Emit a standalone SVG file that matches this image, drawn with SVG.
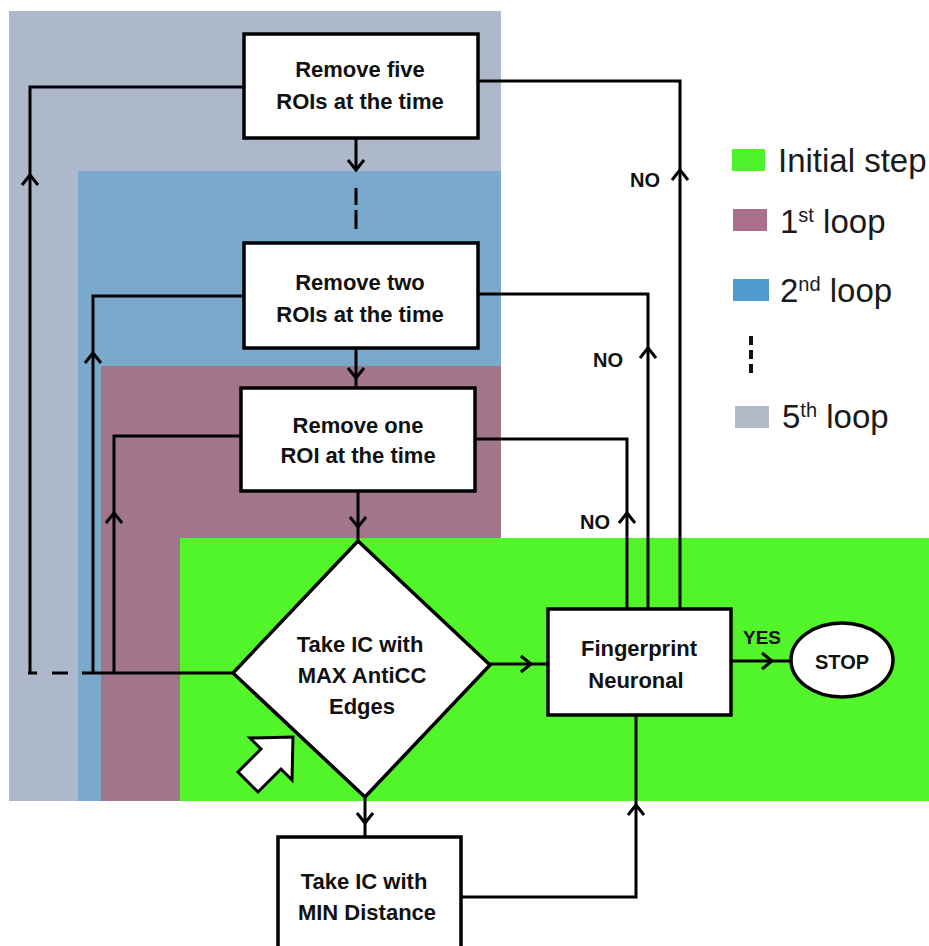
<svg xmlns="http://www.w3.org/2000/svg" width="929" height="946" viewBox="0 0 929 946">
<style>
.box{fill:#fff;stroke:#000;stroke-width:3.5}
.ln{fill:none;stroke:#000;stroke-width:3}
.lbl{font-family:"Liberation Sans",Arial,sans-serif;font-weight:bold;font-size:22px;fill:#111;text-anchor:middle}
.no{font-family:"Liberation Sans",Arial,sans-serif;font-weight:bold;font-size:20px;fill:#111}
.leg{font-family:"Liberation Sans",Arial,sans-serif;font-size:33px;fill:#1a1a1a}
</style>
<defs>
<marker id="ch" markerUnits="userSpaceOnUse" markerWidth="24" markerHeight="24" refX="12" refY="10" orient="auto" overflow="visible">
<path d="M2,2 L12,10 L2,18" fill="none" stroke="#000" stroke-width="3"/>
</marker>
</defs>
<rect width="929" height="946" fill="#fff"/>
<g id="regions">
<rect x="9" y="11" width="492" height="790" fill="#AEB8CB"/>
<rect x="78" y="171" width="423" height="630" fill="#79AACC"/>
<rect x="101" y="366" width="400" height="435" fill="#A1768A"/>
<rect x="180" y="538" width="749" height="263" fill="#52F52A"/>
</g>
<g id="connectors">
<!-- five box left loop -->
<path class="ln" d="M30,673 L30,175" marker-end="url(#ch)"/>
<path class="ln" d="M30,175 L30,87 L244,87"/>
<path class="ln" d="M28,673 L37,673"/>
<path class="ln" d="M52,673 L68,673"/>
<!-- two box left loop -->
<path class="ln" d="M93,673 L93,353" marker-end="url(#ch)"/>
<path class="ln" d="M93,353 L93,296 L244,296"/>
<!-- one box left loop -->
<path class="ln" d="M114,673 L114,513" marker-end="url(#ch)"/>
<path class="ln" d="M114,513 L114,436 L241,436"/>
<!-- main horizontal into diamond -->
<path class="ln" d="M82,673 L233,673"/>
<!-- right NO loops -->
<path class="ln" d="M680,609 L680,170" marker-end="url(#ch)"/>
<path class="ln" d="M680,170 L680,81 L478,81"/>
<path class="ln" d="M648,609 L648,348" marker-end="url(#ch)"/>
<path class="ln" d="M648,348 L648,294 L478,294"/>
<path class="ln" d="M627,609 L627,513" marker-end="url(#ch)"/>
<path class="ln" d="M627,513 L627,439 L475,439"/>
<!-- downward flow -->
<path class="ln" d="M356,138 L356,170" marker-end="url(#ch)"/>
<path class="ln" d="M356,188 L356,205"/>
<path class="ln" d="M356,210 L356,229"/>
<path class="ln" d="M356,348 L356,378" marker-end="url(#ch)"/>
<path class="ln" d="M356,378 L356,388"/>
<path class="ln" d="M358,491 L358,527" marker-end="url(#ch)"/>
<path class="ln" d="M358,527 L358,541"/>
<path class="ln" d="M365,797 L365,823" marker-end="url(#ch)"/>
<path class="ln" d="M365,823 L365,837"/>
<!-- min box to fingerprint -->
<path class="ln" d="M461,897 L636,897 L636,805" marker-end="url(#ch)"/>
<path class="ln" d="M636,805 L636,715"/>
<!-- diamond to fingerprint -->
<path class="ln" d="M490,664 L531,664" marker-end="url(#ch)"/>
<path class="ln" d="M531,664 L548,664"/>
<!-- fingerprint to stop -->
<path class="ln" d="M731,661 L772,661" marker-end="url(#ch)"/>
<path class="ln" d="M772,661 L791,661"/>
</g>
<g id="labels">
<text class="no" x="630" y="187">NO</text>
<text class="no" x="593" y="367">NO</text>
<text class="no" x="580" y="529">NO</text>
<text class="no" x="743" y="644" style="font-size:19px">YES</text>
</g>
<g id="n_five">
<rect class="box" x="244" y="34" width="234" height="104"/>
<text class="lbl" x="360" y="77">Remove five</text>
<text class="lbl" x="360" y="109">ROIs at the time</text>
</g>
<g id="n_two">
<rect class="box" x="244" y="243" width="234" height="105"/>
<text class="lbl" x="360" y="290">Remove two</text>
<text class="lbl" x="360" y="322">ROIs at the time</text>
</g>
<g id="n_one">
<rect class="box" x="241" y="388" width="234" height="103"/>
<text class="lbl" x="358" y="433">Remove one</text>
<text class="lbl" x="358" y="463">ROI at the time</text>
</g>
<g id="n_diamond">
<polygon class="box" points="358,541 490,665 365,797 233,673"/>
<text class="lbl" x="360" y="652">Take IC with</text>
<text class="lbl" x="362" y="683">MAX AntiCC</text>
<text class="lbl" x="362" y="714">Edges</text>
</g>
<g id="n_fingerprint">
<rect class="box" x="548" y="609" width="183" height="106"/>
<text class="lbl" x="639" y="656">Fingerprint</text>
<text class="lbl" x="636" y="688">Neuronal</text>
</g>
<g id="n_stop">
<ellipse class="box" cx="842" cy="660" rx="51" ry="37"/>
<text class="lbl" x="842" y="669" style="font-size:20px">STOP</text>
</g>
<g id="n_min">
<rect class="box" x="278" y="837" width="183" height="120"/>
<text class="lbl" x="364" y="889">Take IC with</text>
<text class="lbl" x="367" y="920">MIN Distance</text>
</g>
<g id="start_arrow">
<polygon points="250,738 293,737 292,780 281,769 258,792 238,772 261,749" fill="#fff" stroke="#000" stroke-width="3" stroke-linejoin="miter"/>
</g>
<g id="legend">
<rect x="732" y="149" width="33" height="22" fill="#4EF22A"/>
<text class="leg" x="778" y="172">Initial step</text>
<rect x="733" y="209" width="34" height="22" fill="#A8708C"/>
<text class="leg" x="780" y="233">1<tspan font-size="20" dy="-11">st</tspan><tspan dy="11"> loop</tspan></text>
<rect x="733" y="279" width="36" height="22" fill="#4F9BD0"/>
<text class="leg" x="780" y="302">2<tspan font-size="20" dy="-11">nd</tspan><tspan dy="11"> loop</tspan></text>
<path d="M751,336 L751,378" stroke="#111" stroke-width="4" stroke-dasharray="9,5" fill="none"/>
<rect x="735" y="406" width="34" height="22" fill="#B3BBCB"/>
<text class="leg" x="782" y="428">5<tspan font-size="20" dy="-11">th</tspan><tspan dy="11"> loop</tspan></text>
</g>
</svg>
